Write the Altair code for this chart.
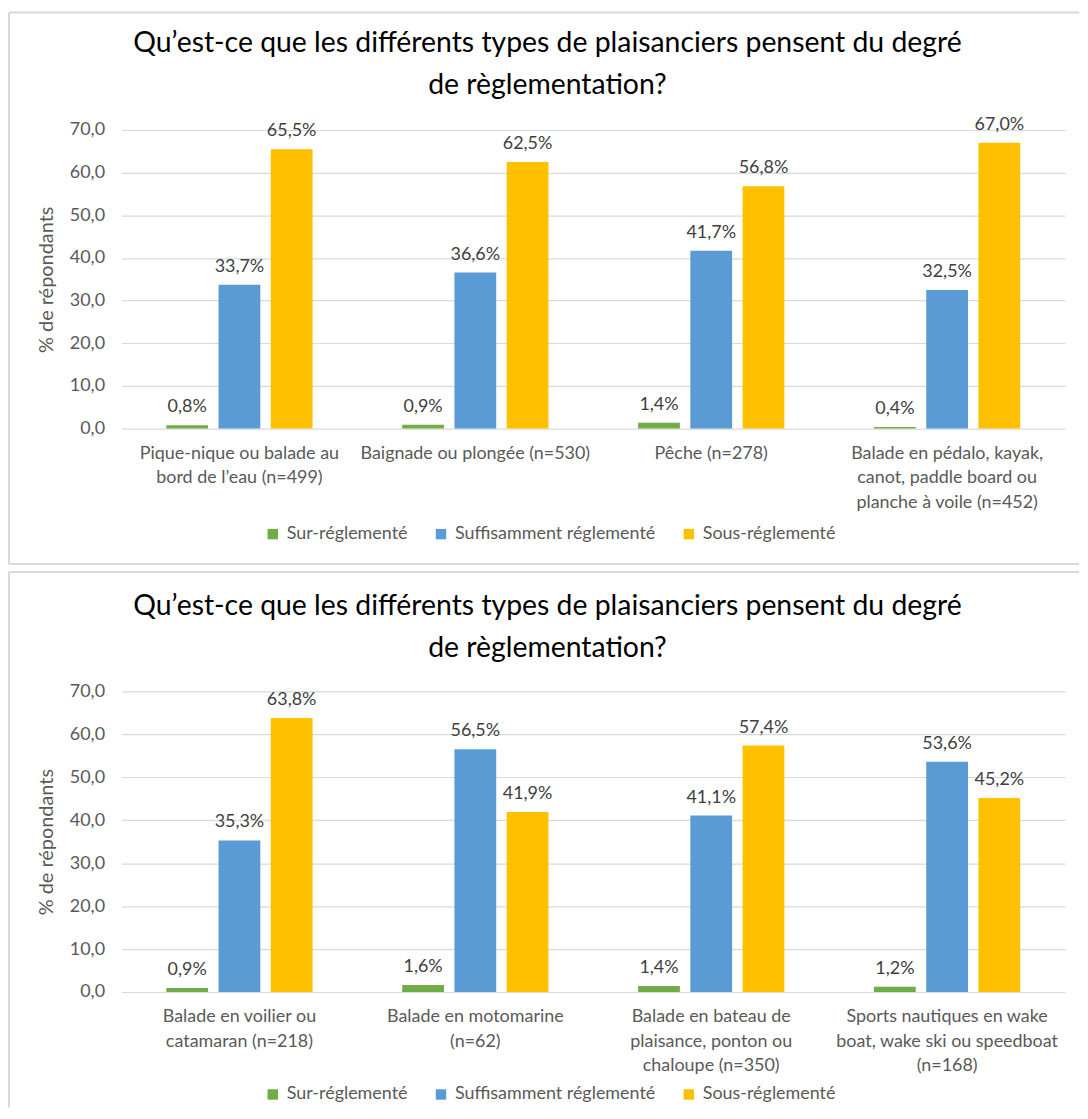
import altair as alt
import pandas as pd

series = ["Sur-réglementé", "Suffisamment réglementé", "Sous-réglementé"]
colors = ["#70ad47", "#5b9bd5", "#ffc000"]

cats1 = ["Pique-nique ou balade au|bord de l’eau (n=499)",
         "Baignade ou plongée (n=530)",
         "Pêche (n=278)",
         "Balade en pédalo, kayak,|canot, paddle board ou|planche à voile (n=452)"]
sur1 = [0.8, 0.9, 1.4, 0.4]
suff1 = [33.7, 36.6, 41.7, 32.5]
sous1 = [65.5, 62.5, 56.8, 67.0]

cats2 = ["Balade en voilier ou|catamaran (n=218)",
         "Balade en motomarine|(n=62)",
         "Balade en bateau de|plaisance, ponton ou|chaloupe (n=350)",
         "Sports nautiques en wake|boat, wake ski ou speedboat|(n=168)"]
sur2 = [0.9, 1.6, 1.4, 1.2]
suff2 = [35.3, 56.5, 41.1, 53.6]
sous2 = [63.8, 41.9, 57.4, 45.2]

y_ticks = [0, 10, 20, 30, 40, 50, 60, 70]
title_lines = ["Qu’est-ce que les différents types de plaisanciers pensent du degré",
               "de règlementation?"]
y_title = "% de répondants"

FONT = "Lato"
W = 948


def build_df(cats, a, b, c):
    rows = []
    for i, cat in enumerate(cats):
        for s, v in zip(series, (a[i], b[i], c[i])):
            rows.append({"cat": cat, "serie": s, "val": v,
                         "lab": f"{v:.1f}".replace(".", ",") + "%"})
    return pd.DataFrame(rows)


def panel(cats, a, b, c, height, legend_y, top, bottom, title_dy, bottom_line):
    df = build_df(cats, a, b, c)
    base = alt.Chart(df).encode(
        x=alt.X("cat:N", sort=cats, title=None,
                scale=alt.Scale(paddingInner=0.38, paddingOuter=0.19),
                axis=alt.Axis(labelExpr="split(datum.label, '|')", labelAngle=0,
                              labelFont=FONT, labelFontSize=18, labelColor="#595959",
                              labelLineHeight=24.5, labelPadding=16, labelLimit=400,
                              ticks=False, domain=False, grid=False)),
        xOffset=alt.XOffset("serie:N", sort=series,
                            scale=alt.Scale(paddingInner=0.2, paddingOuter=0)),
    )
    bars = base.mark_bar().encode(
        y=alt.Y("val:Q", scale=alt.Scale(domain=[0, 70], nice=False),
                title=y_title,
                axis=alt.Axis(values=y_ticks,
                              labelExpr="replace(format(datum.value, '.1f'), '.', ',')",
                              labelFont=FONT, labelFontSize=18, labelColor="#595959",
                              labelPadding=17, ticks=False, domain=False,
                              gridColor="#d9d9d9", gridWidth=1.2,
                              titleFont=FONT, titleFontSize=20, titleColor="#595959",
                              titleFontWeight="normal", titleAngle=270,
                              titleX=-75, titleY=height / 2, titleAlign="center",
                              titleBaseline="middle")),
        color=alt.Color("serie:N", sort=series,
                        scale=alt.Scale(domain=series, range=colors),
                        legend=alt.Legend(title=None, orient="none", direction="horizontal",
                                          legendX=143, legendY=legend_y,
                                          symbolType="square", symbolSize=110,
                                          symbolStrokeWidth=0, labelFont=FONT,
                                          labelFontSize=18, labelColor="#595959",
                                          labelOffset=5, columnPadding=24, padding=0,
                                          labelLimit=400)),
    )
    labels = base.mark_text(baseline="alphabetic", dy=-13, font=FONT, fontSize=18,
                            color="#404040").encode(
        y=alt.Y("val:Q"), text="lab:N")
    one = alt.Data(values=[{"k": 1}])
    lines = [
        alt.Chart(one).mark_rule(color="#d9d9d9", strokeWidth=2).encode(
            x=alt.value(-113), x2=alt.value(962), y=alt.value(top)),
        alt.Chart(one).mark_rule(color="#d9d9d9", strokeWidth=2).encode(
            x=alt.value(-113), y=alt.value(top), y2=alt.value(bottom)),
    ]
    if bottom_line:
        lines.append(alt.Chart(one).mark_rule(color="#d9d9d9", strokeWidth=2).encode(
            x=alt.value(-113), x2=alt.value(962), y=alt.value(bottom)))
    return alt.layer(*lines, bars, labels).properties(
        width=W, height=height,
        title=alt.TitleParams(text=title_lines, font=FONT, fontSize=28.5,
                              fontWeight="normal", color="#000000",
                              anchor="middle", frame="group", dx=-46, dy=title_dy,
                              lineHeight=42, baseline="bottom", offset=30),
    )


c1 = panel(cats1, sur1, suff1, sous1, 300, 397, -118, 436, 147, True)
c2 = panel(cats2, sur2, suff2, sous2, 302, 396, -120, 418, 151, False)

chart = alt.vconcat(c1, c2, spacing=6).resolve_scale(
    color="independent", x="independent", y="independent"
).resolve_legend(color="independent").properties(
    padding={"left": 0, "top": 1, "right": 0, "bottom": 0}
).configure_view(stroke=None)

chart.save("out.html", embed_options={"renderer": "svg", "actions": False})
